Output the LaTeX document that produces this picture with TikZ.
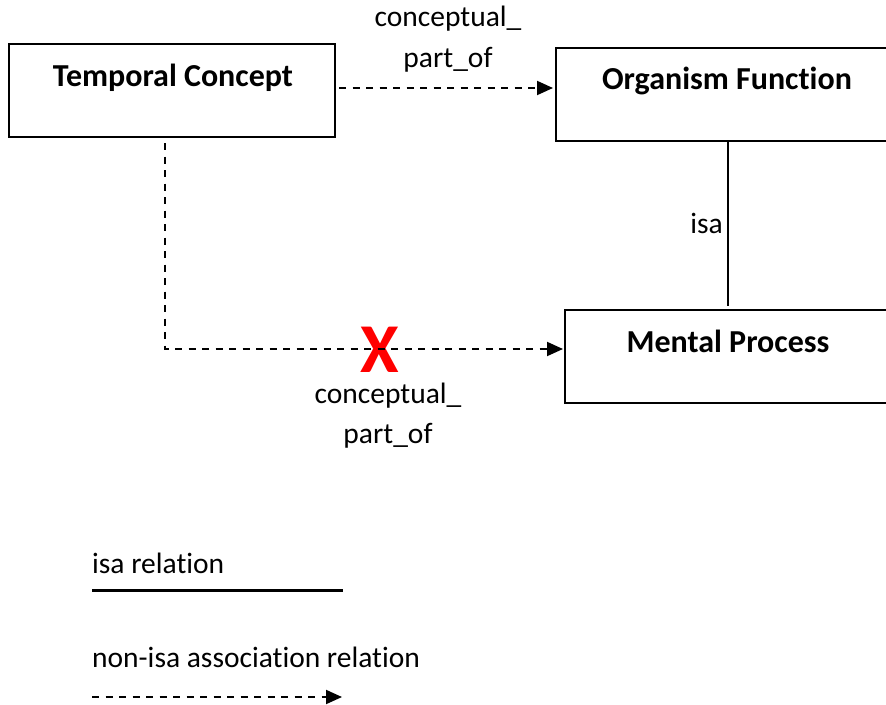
\documentclass[tikz,border=0pt]{standalone}
\usepackage{fontspec}
\setmainfont[Ligatures={NoCommon}]{Carlito}
\usetikzlibrary{arrows.meta}

\begin{document}
\begin{tikzpicture}[
  x=1pt, y=-1pt,
  box/.style={draw, line width=2.1pt, rectangle, inner sep=0pt, outer sep=0pt},
  boxtext/.style={anchor=base, inner sep=0pt, font=\fontsize{32}{38}\selectfont\bfseries},
  lbl/.style={anchor=base, inner sep=0pt, font=\fontsize{29.5}{36}\selectfont},
  isarel/.style={line width=2.2pt},
  assoc/.style={line width=1.9pt, dash pattern=on 7pt off 6.5pt,
                -{Triangle[length=16pt,width=14pt]}},
  cross/.style={inner sep=0pt, text depth=0pt, text=red,
                font=\fontsize{70}{80}\selectfont\bfseries}
]
\useasboundingbox (0,0) rectangle (886,704);
\clip (0,0) rectangle (886,704);
\fill[white] (0,0) rectangle (886,704);

% concept boxes (the right-hand ones run past the edge)
\node[box, minimum width=326pt, minimum height=93pt] (tc) at (172,90.5) {};
\node[box, minimum width=344pt, minimum height=93pt] (of) at (728,94.5) {};
\node[box, minimum width=335pt, minimum height=93pt] (mp) at (732.5,356.5) {};

\node[boxtext] (tct) at (173,86) {Temporal Concept};
\node[boxtext] (oft) at (727,89) {Organism Function};
\node[boxtext] (mpt) at (728,352) {Mental Process};

% association Temporal Concept -> Organism Function
\draw[assoc, shorten <=4pt, shorten >=3pt]
  ([yshift=2.5pt]tc.east) -- ([yshift=6.5pt]of.west);
\node[lbl] (l1a) at (448,27) {conceptual\_};
\node[lbl] (l1b) at (448,67) {part\_of};

% rejected association Temporal Concept -> Mental Process
\node[cross] (x) at (379.5,350) {X};
\draw[assoc, shorten <=6pt, shorten >=2pt]
  ([xshift=-7pt]tc.south) |- ([yshift=7.5pt]mp.west);
\node[lbl] (l2a) at (388,403) {conceptual\_};
\node[lbl] (l2b) at (388,443) {part\_of};

% isa link
\draw[isarel, shorten >=4pt] (of.south -| mpt.base) -- (mp.north -| mpt.base);
\node[lbl, anchor=base east] (lisa) at (723,233) {isa};

% legend
\node[lbl, anchor=base west] (leg1) at (92,573) {isa relation};
\coordinate (leg1a) at (92,590.5);
\coordinate (leg1b) at (343,590.5);
\draw[isarel] (leg1a) -- (leg1b);

\node[lbl, anchor=base west] (leg2) at (92,667) {non-isa association relation};
\coordinate (leg2a) at (92,697);
\coordinate (leg2b) at (342,697);
\draw[assoc] (leg2a) -- (leg2b);
\end{tikzpicture}
\end{document}
